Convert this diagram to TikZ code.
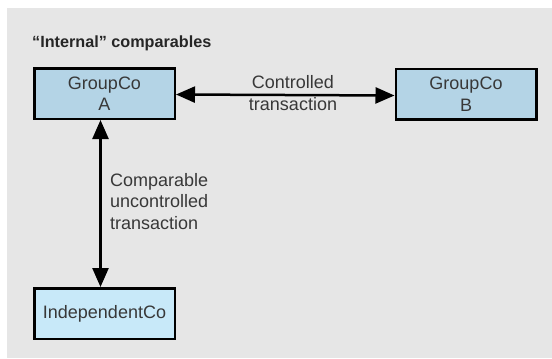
\documentclass[tikz,border=0pt]{standalone}
\usepackage{fontspec}
\setmainfont{Liberation Sans}
\usepackage{tikz}
\usetikzlibrary{arrows.meta,positioning}

\definecolor{panelgray}{HTML}{E6E6E6}
\definecolor{groupblue}{HTML}{B4D4E6}
\definecolor{indepblue}{HTML}{C8E9F9}
\definecolor{inkgray}{HTML}{383838}

\tikzset{
  company/.style={draw=black, line width=2.5pt, fill=groupblue, text=inkgray,
    minimum width=140.5pt, minimum height=50.5pt, inner sep=0pt, align=center,
    font=\fontsize{18}{21.5}\selectfont},
  indep/.style={company, fill=indepblue},
  deal/.style={line width=2.5pt, {Triangle[length=19pt,width=16pt]}-{Triangle[length=19pt,width=16pt]}},
  dealtext/.style={text=inkgray, inner sep=0pt, font=\fontsize{18}{21.5}\selectfont}
}

\begin{document}
\begin{tikzpicture}[x=1pt,y=-1pt]
                \useasboundingbox (0,0) rectangle (552,359);
                \fill[panelgray] (7,8) rectangle (552,358);

                \node[anchor=west, inner sep=0pt, text=black!85, font=\fontsize{16.2}{19}\selectfont\bfseries] (title) at (32,43) {“Internal” comparables};

                \node[company] (groupA) at (104.5,93.5) {GroupCo\\A};
                \node[company] (groupB) at (466,94) {GroupCo\\B};
                \node[indep] (indepco) at (104.5,313.5) {IndependentCo};

                \draw[deal] ([yshift=-1pt]groupA.east) -- ([yshift=-1.5pt]groupB.west);
                \draw[deal] ([xshift=-4pt]groupA.south) -- ([xshift=-4pt]indepco.north);

                \node[dealtext, align=center] (ctrl) at (293,93) {Controlled\\transaction};
                \node[dealtext, align=left, anchor=west] (unctrl) at (110,201.5) {Comparable\\uncontrolled\\transaction};
\end{tikzpicture}
\end{document}
